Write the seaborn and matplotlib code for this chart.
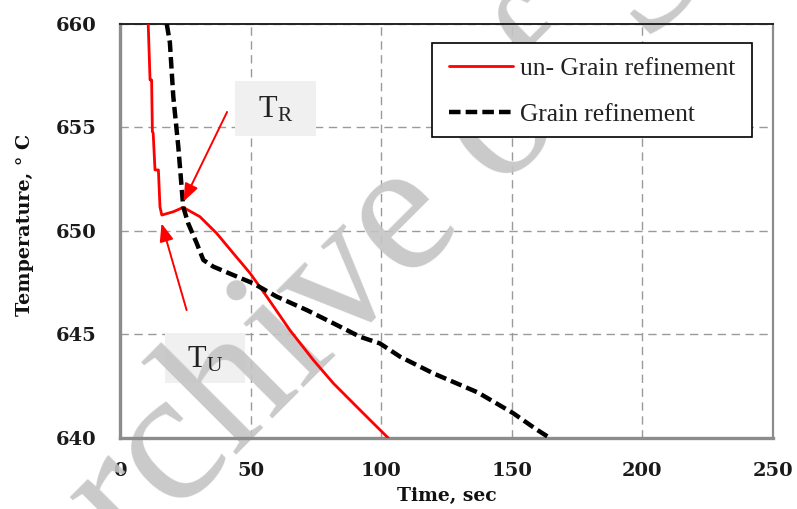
import matplotlib
matplotlib.use("Agg")
import matplotlib.pyplot as plt
import numpy as np
import pandas as pd
import seaborn as sns
from matplotlib.ticker import MultipleLocator
from matplotlib.patches import Rectangle

sns.set_theme(style="white")
plt.rcParams["font.family"] = ["DejaVu Serif"]
plt.rcParams["mathtext.fontset"] = "stix"

# ---- data ----
un_time = [10.8, 11.5, 12.1, 12.4, 12.7, 13.4, 14.7, 15.3, 16.0, 20.4, 24.2, 30.6, 37.0,
           43.4, 49.8, 56.2, 65.1, 74.0, 81.7, 91.9, 97.0, 102.7]
un_temp = [660.0, 657.3, 657.3, 654.8, 654.73, 652.95, 652.95, 651.17, 650.77, 650.93, 651.14,
           650.69, 649.89, 648.92, 647.96, 646.83, 645.2, 643.77, 642.64, 641.35, 640.71, 640.0]

gr_time = [17.9, 19.1, 20.4, 22.3, 23.6, 24.2, 26.1, 29.4, 31.9, 35.7, 43.4,
           51.0, 60.0, 71.5, 81.7, 91.9, 99.5, 107.2, 120.0, 137.0, 150.5, 159.6, 164.6]
gr_temp = [660.0, 659.1, 656.5, 654.1, 652.1, 651.17, 650.37, 649.4, 648.6, 648.28, 647.87,
           647.47, 646.83, 646.18, 645.54, 644.89, 644.57, 643.93, 643.12, 642.2, 641.2, 640.4, 640.0]

series_names = ["un- Grain refinement", "Grain refinement"]
x_ticks = [0, 50, 100, 150, 200, 250]
y_ticks = [640, 645, 650, 655, 660]

df = pd.concat([
    pd.DataFrame({"time": un_time, "temp": un_temp, "series": series_names[0]}),
    pd.DataFrame({"time": gr_time, "temp": gr_temp, "series": series_names[1]}),
], ignore_index=True)

W, H = 797, 509
fig = plt.figure(figsize=(W / 100, H / 100), dpi=100)
L, R, T, B = 120, 773, 24, 438
ax = fig.add_axes([L / W, 1 - B / H, (R - L) / W, (B - T) / H])
ax.patch.set_alpha(0)

sns.lineplot(data=df, x="time", y="temp", hue="series", style="series",
             hue_order=series_names, style_order=series_names,
             palette={series_names[0]: "#ff0000", series_names[1]: "#000000"},
             dashes={series_names[0]: "", series_names[1]: (2.6, 1.15)},
             sort=False, estimator=None, ax=ax, legend=False, zorder=3)
red_line, black_line = ax.lines[0], ax.lines[1]
red_line.set_linewidth(2.0)
black_line.set_linewidth(3.2)

ax.set_xlim(0, 250)
ax.set_ylim(640, 660)
ax.set_xticks(x_ticks)
ax.set_yticks(y_ticks)
ax.xaxis.set_minor_locator(MultipleLocator(25))
ax.yaxis.set_minor_locator(MultipleLocator(2.5))
tick_font = dict(family="DejaVu Serif", weight="bold", size=14)
ax.set_xticklabels([str(v) for v in x_ticks], fontdict=tick_font)
ax.set_yticklabels([str(v) for v in y_ticks], fontdict=tick_font)
ax.tick_params(axis="both", which="both", direction="in", length=6, width=1.5,
               color="#8c8c8c", labelcolor="#1a1a1a")
ax.tick_params(axis="x", which="major", pad=17)
ax.tick_params(axis="y", which="major", pad=17)

ax.set_axisbelow(True)
ax.grid(True, which="major", color="#9a9a9a", linestyle=(0, (6, 4)), linewidth=1.0)

for side in ("left", "bottom"):
    ax.spines[side].set_color("#8c8c8c")
    ax.spines[side].set_linewidth(2.4)
ax.spines["right"].set_color("#8c8c8c")
ax.spines["right"].set_linewidth(1.6)
ax.spines["top"].set_color("#222222")
ax.spines["top"].set_linewidth(1.4)

ax.set_xlabel("Time, sec", fontsize=13.5, fontweight="bold", family="DejaVu Serif", color="#111111")
ax.set_ylabel("Temperature, ° C", fontsize=13.8, fontweight="bold", family="DejaVu Serif", color="#111111")
ax.xaxis.set_label_coords(0.5, (B - 487) / (B - T))
ax.yaxis.set_label_coords((34 - L) / (R - L), (B - 225) / (B - T))

# legend with a hand-placed frame
leg_frame = Rectangle((432 / W, 1 - 137 / H), (752 - 432) / W, (137 - 43) / H,
                      transform=fig.transFigure, facecolor="white", edgecolor="black",
                      linewidth=1.2, zorder=7, clip_on=False)
ax.add_patch(leg_frame)
leg = ax.legend([red_line, black_line], series_names, loc="upper left",
                bbox_to_anchor=(449 / W, 1 - 57 / H), bbox_transform=fig.transFigure,
                frameon=False, borderaxespad=0, borderpad=0, handlelength=2.5,
                handletextpad=0.27, labelspacing=0.9,
                prop=dict(family="Liberation Serif", size=18.4))
leg.set_zorder(8)
for t in leg.get_texts():
    t.set_color("#222222")

# annotation boxes and arrows
ax.add_patch(Rectangle((44.0, 654.6), 31.0, 2.65, facecolor="#f0f0f0", edgecolor="none", zorder=1.5))
ax.add_patch(Rectangle((17.2, 642.65), 30.7, 2.42, facecolor="#f0f0f0", edgecolor="none", zorder=1.5))
ax.text(59.5, 655.85, r"T$_\mathregular{R}$", fontsize=22, family="Liberation Serif",
        ha="center", va="center", color="#222222", zorder=5)
ax.text(32.5, 643.75, r"T$_\mathregular{U}$", fontsize=22, family="Liberation Serif",
        ha="center", va="center", color="#222222", zorder=5)
arrow_kw = dict(arrowstyle="-|>,head_length=0.9,head_width=0.35", color="#ff0000", lw=1.4,
                shrinkA=0, shrinkB=0)
ax.annotate("", xy=(24.3, 651.42), xytext=(41.0, 655.75), arrowprops=arrow_kw, zorder=6)
ax.annotate("", xy=(15.9, 650.37), xytext=(25.5, 646.18), arrowprops=arrow_kw, zorder=6)

# watermark (baseline start placed off-canvas, bottom-left)
ax.text(33 / W, 1 - 659 / H, "Archive of SID", transform=fig.transFigure,
        fontsize=137, family="Liberation Serif", color="#c4c4c4", alpha=0.9,
        rotation=45, ha="left", va="baseline", rotation_mode="anchor",
        zorder=2, clip_on=False)

fig.savefig("out.png", dpi=100)
